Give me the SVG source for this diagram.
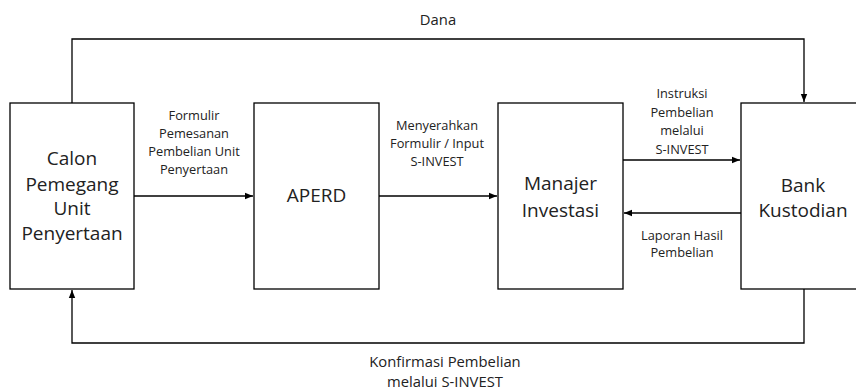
<svg xmlns="http://www.w3.org/2000/svg" width="856" height="390" viewBox="0 0 856 390">
<defs>
<marker id="arr" viewBox="0 0 10 10" refX="10" refY="5" markerWidth="8" markerHeight="8" markerUnits="userSpaceOnUse" orient="auto">
<path d="M0,1 L10,5 L0,9 Z" fill="#000"/>
</marker>
<style>
.box{fill:#fff;stroke:#000;stroke-width:1.3}
.ln{fill:none;stroke:#000;stroke-width:1.3}
.big{font-family:"Open Sans","Noto Sans",sans-serif;font-size:19px;fill:#222;text-anchor:middle}
.sm{font-family:"Open Sans","Noto Sans",sans-serif;font-size:12.8px;fill:#222;text-anchor:middle}
.md{font-family:"Open Sans","Noto Sans",sans-serif;font-size:14.8px;fill:#222;text-anchor:middle}
</style>
</defs>
<rect width="856" height="390" fill="#fff"/>
<g id="connectors">
<path class="ln" d="M72,103 V39 H804 V102" marker-end="url(#arr)"/>
<path class="ln" d="M804,289 V343 H72 V290" marker-end="url(#arr)"/>
<path class="ln" d="M134,196 H253" marker-end="url(#arr)"/>
<path class="ln" d="M379,196 H497" marker-end="url(#arr)"/>
<path class="ln" d="M623,160 H740" marker-end="url(#arr)"/>
<path class="ln" d="M741,213 H624" marker-end="url(#arr)"/>
</g>
<g id="labels">
<text class="md" x="438" y="24.5">Dana</text>
<text class="sm" x="194" y="119.5">Formulir</text>
<text class="sm" x="194" y="137.5">Pemesanan</text>
<text class="sm" x="194" y="156">Pembelian Unit</text>
<text class="sm" x="194" y="174">Penyertaan</text>
<text class="sm" x="437" y="129.5">Menyerahkan</text>
<text class="sm" x="437" y="147.5">Formulir / Input</text>
<text class="sm" x="437" y="165.5">S-INVEST</text>
<text class="sm" x="682" y="97.5">Instruksi</text>
<text class="sm" x="682" y="116.5">Pembelian</text>
<text class="sm" x="682" y="134.5">melalui</text>
<text class="sm" x="682" y="153.5">S-INVEST</text>
<text class="sm" x="682" y="239.5">Laporan Hasil</text>
<text class="sm" x="682" y="256.5">Pembelian</text>
<text class="md" x="445" y="367">Konfirmasi Pembelian</text>
<text class="md" x="445" y="387">melalui S-INVEST</text>
</g>
<g id="calon">
<rect class="box" x="10" y="103" width="124" height="186"/>
<text class="big" x="72" y="165">Calon</text>
<text class="big" x="72" y="191">Pemegang</text>
<text class="big" x="72" y="215">Unit</text>
<text class="big" x="72" y="240">Penyertaan</text>
</g>
<g id="aperd">
<rect class="box" x="254" y="103" width="125" height="186"/>
<text class="big" x="316.5" y="202">APERD</text>
</g>
<g id="manajer">
<rect class="box" x="498" y="103" width="125" height="186"/>
<text class="big" x="560.5" y="190">Manajer</text>
<text class="big" x="560.5" y="217">Investasi</text>
</g>
<g id="bank">
<rect class="box" x="741" y="103" width="125" height="186"/>
<text class="big" x="803" y="192">Bank</text>
<text class="big" x="803" y="217">Kustodian</text>
</g>
</svg>
